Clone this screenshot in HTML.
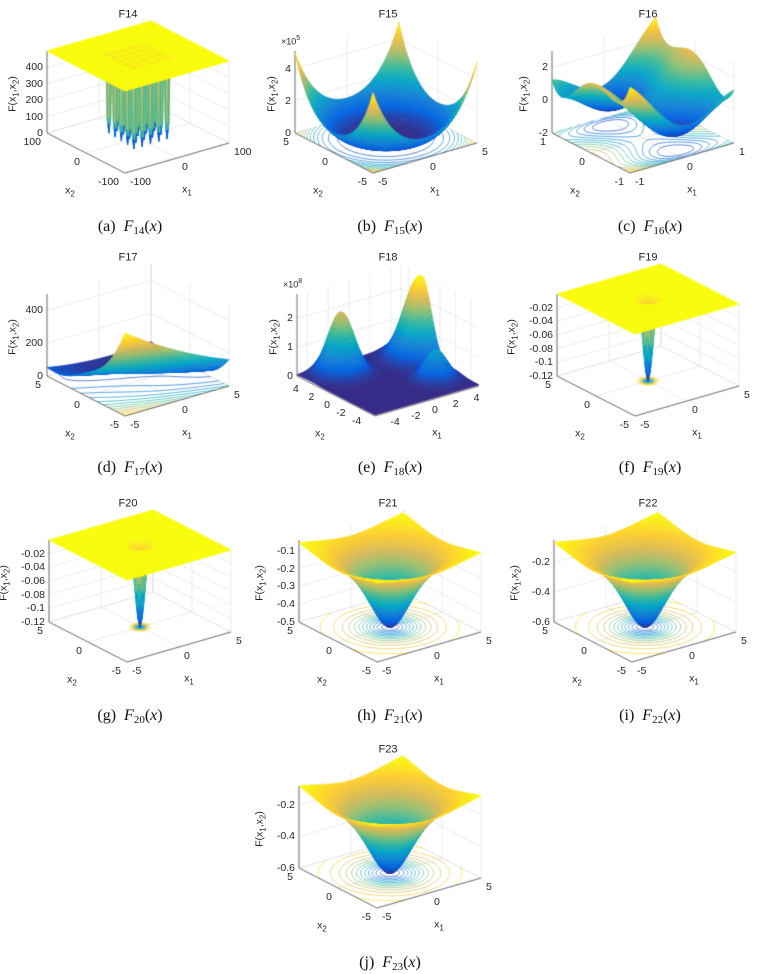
<!DOCTYPE html>
<html><head><meta charset="utf-8">
<style>
html,body{margin:0;padding:0;background:#fff;}
#wrap{position:relative;width:781px;height:974px;overflow:hidden;font-family:"Liberation Sans",sans-serif;color:#262626;}
#cv{position:absolute;left:0;top:0;}
.t{position:absolute;white-space:nowrap;font-size:10.5px;line-height:1;}
.ttl{font-size:11px;transform:translate(-50%,-50%);}
.cap{font-family:"Liberation Serif",serif;font-size:16px;color:#111;transform:translate(-50%,-50%);}
.zl{transform:translate(-100%,-50%);}
.x2l{transform:translate(-100%,-20%);}
.x1l{transform:translate(0,-20%);}
.ctr{transform:translate(-50%,-50%);}
.rot{transform:translate(-50%,-50%) rotate(-90deg);}
.t sub{font-size:8px;}
.t.cap sub{font-size:11px;vertical-align:-3px;line-height:0;}
</style></head>
<body>
<div id="wrap">
<canvas id="cv" width="781" height="974"></canvas>
</div>
<script>
// ---- tick label arrays ----
const f14ZTicks=[0,100,200,300,400];
const f14XTicks=[-100,0,100];
const f15ZTicks=[0,2,4];
const f15XTicks=[-5,0,5];
const f16ZTicks=[-2,0,2];
const f16XTicks=[-1,0,1];
const f17ZTicks=[0,200,400];
const f17XTicks=[-5,0,5];
const f18ZTicks=[0,1,2];
const f18XTicks=[-4,-2,0,2,4];
const f19ZTicks=[-0.12,-0.1,-0.08,-0.06,-0.04,-0.02];
const f19XTicks=[-5,0,5];
const f21ZTicks=[-0.5,-0.4,-0.3,-0.2,-0.1];
const f22ZTicks=[-0.6,-0.4,-0.2];
// ---- function parameters ----
const f14Centers=[-32,-16,0,16,32];
const f18PeakHeights=[2.1,2.8,1.0];
const f18PeakX1=[-2,4.8,3.1];
const f18PeakX2=[3.35,2.3,-2];
const f18PeakWidth=[2.0,3.0,1.5];
const f19Depth=[-0.12];
const f21Depth=[-0.5];
const f22Depth=[-0.6];

const titleY=[15,258,504,750];
const capY=[227,468,716,963];
const colX=[0,260,520];

function f14(x,y){let s=1/500;let j=1;for(const b of f14Centers)for(const a of f14Centers){s+=1/(j+Math.pow(x-a,6)+Math.pow(y-b,6));j++;}return 1/s;}
function f15(x,y){const r2=x*x+y*y;return 200*r2*r2;}
function f16(x,y){return 4*x*x-2.1*Math.pow(x,4)+Math.pow(x,6)/3+x*y-4*y*y+4*Math.pow(y,4);}
function branin(a,b){const t=b-5.1/(4*Math.PI*Math.PI)*a*a+5/Math.PI*a-6;return t*t+10*(1-1/(8*Math.PI))*Math.cos(a)+10;}
function f17(x,y){return branin(y,x);}
function f18(x,y){let s=0.04;for(let i=0;i<f18PeakHeights.length;i++){const dx=x-f18PeakX1[i],dy=y-f18PeakX2[i];s+=f18PeakHeights[i]*Math.exp(-(dx*dx+dy*dy)/f18PeakWidth[i]);}return s;}
function f19(x,y){return f19Depth[0]*Math.exp(-(x*x+y*y)/0.25);}
function f21(x,y){return -1/(1/(-f21Depth[0])+0.32*(x*x+y*y));}
function f22(x,y){return -1/(1/(-f22Depth[0])+0.265*(x*x+y*y));}
function f23(x,y){return -1/(1/(-f22Depth[0])+0.22*(x*x+y*y));}

const panels=[
 {id:'F14',c:0,r:0,fx:125,zr:[0,500],zt:f14ZTicks,xr:[-100,100],xt:f14XTicks,n:100,fn:f14,ct:false,l:'a',s:'14'},
 {id:'F15',c:1,r:0,fx:113,zr:[0,5.1e5],zt:f15ZTicks,zs:1e5,ex:'5',xr:[-5,5],xt:f15XTicks,n:60,fn:f15,ct:true,l:'b',s:'15'},
 {id:'F16',c:2,r:0,fx:110,zr:[-2,3],zt:f16ZTicks,xr:[-1,1],xt:f16XTicks,n:60,fn:f16,ct:true,l:'c',s:'16'},
 {id:'F17',c:0,r:1,fx:125,zr:[0,500],zt:f17ZTicks,xr:[-5,5],xt:f17XTicks,n:60,fn:f17,ct:true,l:'d',s:'17'},
 {id:'F18',c:1,r:1,fx:115,zr:[0,2.85],zt:f18ZTicks,ex:'8',xr:[-5,5],xt:f18XTicks,n:70,fn:f18,ct:true,l:'e',s:'18'},
 {id:'F19',c:2,r:1,fx:115,zr:[-0.12,0],zt:f19ZTicks,xr:[-5,5],xt:f19XTicks,n:80,fn:f19,ct:true,l:'f',s:'19'},
 {id:'F20',c:0,r:2,fx:127,zr:[-0.12,0],zt:f19ZTicks,xr:[-5,5],xt:f19XTicks,n:80,fn:f19,ct:true,l:'g',s:'20'},
 {id:'F21',c:1,r:2,fx:117,zr:[-0.5,-0.04],zt:f21ZTicks,xr:[-5,5],xt:f19XTicks,n:60,fn:f21,ct:true,l:'h',s:'21'},
 {id:'F22',c:2,r:2,fx:112,zr:[-0.6,-0.05],zt:f22ZTicks,xr:[-5,5],xt:f19XTicks,n:60,fn:f22,ct:true,l:'i',s:'22'},
 {id:'F23',c:1,r:3,fx:117,zr:[-0.6,-0.08],zt:f22ZTicks,xr:[-5,5],xt:f19XTicks,n:60,fn:f23,ct:true,l:'j',s:'23'}
];

const stops=[[53,42,135],[3,99,225],[20,133,212],[6,167,198],[56,185,158],[146,191,115],[217,186,86],[252,206,46],[249,251,14]];
function parula(t){t=Math.max(0,Math.min(1,t));const p=t*(stops.length-1);const i=Math.min(stops.length-2,Math.floor(p));const f=p-i;const a=stops[i],b=stops[i+1];return 'rgb('+Math.round(a[0]+(b[0]-a[0])*f)+','+Math.round(a[1]+(b[1]-a[1])*f)+','+Math.round(a[2]+(b[2]-a[2])*f)+')';}

const cv=document.getElementById('cv');const ctx=cv.getContext('2d');
const wrap=document.getElementById('wrap');
function txt(cls,x,y,html,name){const d=document.createElement('div');d.className='t '+cls;d.style.left=x+'px';d.style.top=y+'px';d.innerHTML=html;


wrap.appendChild(d);return d;}
function fmt(v){return String(v).replace(/^(-?)0\./,'$10.');}

panels.forEach(P=>{
 const T=titleY[P.r],cx=colX[P.c];
 const F={x:cx+P.fx,y:T+158},R={x:F.x+104,y:T+128},L={x:F.x-78,y:T+118};const H=82;
 const z0=P.zr[0],z1=P.zr[1];
 const U=(x)=>(x-P.xr[0])/(P.xr[1]-P.xr[0]);
 const proj=(u,v,z)=>{const w=(z-z0)/(z1-z0);return [F.x+u*(R.x-F.x)+v*(L.x-F.x),F.y+u*(R.y-F.y)+v*(L.y-F.y)-w*H];};
 ctx.strokeStyle='#e3e3e3';ctx.lineWidth=0.7;
 const line=(a,b)=>{ctx.beginPath();ctx.moveTo(a[0],a[1]);ctx.lineTo(b[0],b[1]);ctx.stroke();};
 P.xt.forEach(t=>{const u=U(t);line(proj(u,0,z0),proj(u,1,z0));line(proj(0,u,z0),proj(1,u,z0));line(proj(u,1,z0),proj(u,1,z1));line(proj(1,u,z0),proj(1,u,z1));});
 P.zt.forEach(t=>{const z=t*(P.zs||1);line(proj(0,1,z),proj(1,1,z));line(proj(1,1,z),proj(1,0,z));});
 line(proj(1,1,z0),proj(1,1,z1));
 const n=P.n;const Z=[];let mn=Infinity,mx=-Infinity;
 for(let i=0;i<=n;i++){Z[i]=[];for(let j=0;j<=n;j++){const x=P.xr[0]+(P.xr[1]-P.xr[0])*i/n,y=P.xr[0]+(P.xr[1]-P.xr[0])*j/n;const z=P.fn(x,y);Z[i][j]=z;mn=Math.min(mn,z);mx=Math.max(mx,z);}}
 if(P.ct){const NL=12;ctx.lineWidth=0.7;
  for(let k=1;k<=NL;k++){const lv=mn+(mx-mn)*k/(NL+1);ctx.strokeStyle=parula((lv-mn)/(mx-mn));ctx.beginPath();
   for(let i=0;i<n;i++)for(let j=0;j<n;j++){const c=[[i,j],[i+1,j],[i+1,j+1],[i,j+1]];const pts=[];
    for(let e=0;e<4;e++){const a=c[e],b=c[(e+1)%4];const za=Z[a[0]][a[1]],zb=Z[b[0]][b[1]];if((za<lv)!==(zb<lv)){const f=(lv-za)/(zb-za);pts.push(proj((a[0]+(b[0]-a[0])*f)/n,(a[1]+(b[1]-a[1])*f)/n,z0));}}
    if(pts.length>=2){ctx.moveTo(pts[0][0],pts[0][1]);ctx.lineTo(pts[1][0],pts[1][1]);}
    if(pts.length===4){ctx.moveTo(pts[2][0],pts[2][1]);ctx.lineTo(pts[3][0],pts[3][1]);}}
   ctx.stroke();}}
 ctx.strokeStyle='#4d4d4d';ctx.lineWidth=0.8;
 line(proj(0,0,z0),proj(1,0,z0));line(proj(0,0,z0),proj(0,1,z0));line(proj(0,1,z0),proj(0,1,z1));
 const q=[];
 for(let i=0;i<n;i++)for(let j=0;j<n;j++){const za=(Z[i][j]+Z[i+1][j]+Z[i+1][j+1]+Z[i][j+1])/4;q.push([0.61*(i+0.5)/n+0.79*(j+0.5)/n,i,j,za]);}
 q.sort((a,b)=>b[0]-a[0]);
 ctx.lineWidth=0.6;ctx.lineJoin='round';
 q.forEach(([d,i,j,za])=>{const col=parula((za-mn)/(mx-mn));ctx.fillStyle=col;ctx.strokeStyle=col;
  const p1=proj(i/n,j/n,Z[i][j]),p2=proj((i+1)/n,j/n,Z[i+1][j]),p3=proj((i+1)/n,(j+1)/n,Z[i+1][j+1]),p4=proj(i/n,(j+1)/n,Z[i][j+1]);
  ctx.beginPath();ctx.moveTo(p1[0],p1[1]);ctx.lineTo(p2[0],p2[1]);ctx.lineTo(p3[0],p3[1]);ctx.lineTo(p4[0],p4[1]);ctx.closePath();ctx.fill();ctx.stroke();});
 const pid=P.id.toLowerCase();
 txt('ttl',cx+128,T,P.id,pid+'-title');
 let maxw=0;
 P.zt.forEach(t=>{const p=proj(0,1,t*(P.zs||1));const s=fmt(t);maxw=Math.max(maxw,s.length*5.6);txt('zl',p[0]-4,p[1],s,pid+'-z-tick');});
 txt('rot',L.x-10-maxw-6,(L.y+L.y-H)/2+2,'F(x<sub>1</sub>,x<sub>2</sub>)',pid+'-z-axis-title');
 if(P.ex){txt('',L.x-14,L.y-H-16,'<span style="font-size:9px">×10</span><sup style="font-size:7px">'+P.ex+'</sup>',pid+'-z-exponent');}
 P.xt.forEach(t=>{const u=U(t);const p=proj(0,u,z0);txt('x2l',p[0]-6,p[1]+6,fmt(t),pid+'-x2-tick');
  const p2=proj(u,0,z0);txt('x1l',p2[0]+5,p2[1]+6,fmt(t),pid+'-x1-tick');});
 const m2=proj(0,0.5,z0),m1=proj(0.5,0,z0);
 txt('ctr',m2[0]-16,m2[1]+39,'x<sub>2</sub>',pid+'-x2-axis-title');
 txt('ctr',m1[0]+10,m1[1]+33,'x<sub>1</sub>',pid+'-x1-axis-title');
 txt('cap',cx+130,capY[P.r],'('+P.l+')&nbsp; <i>F</i><sub>'+P.s+'</sub>(<i>x</i>)',pid+'-caption');
});
</script>
</body></html>
